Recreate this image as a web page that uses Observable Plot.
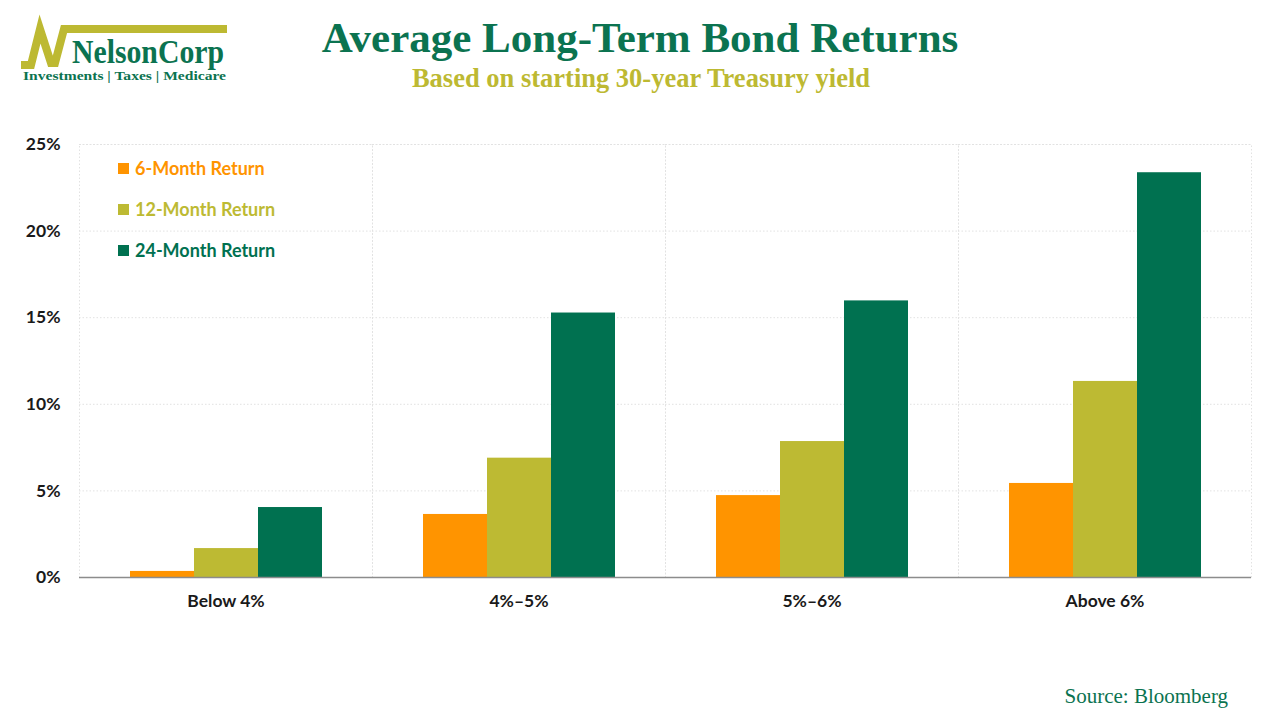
<!DOCTYPE html>
<html>
<head>
<meta charset="utf-8">
<script src="https://cdn.jsdelivr.net/npm/d3@7"></script>
<script src="https://cdn.jsdelivr.net/npm/@observablehq/plot@0.6"></script>
<style>
  html, body { margin: 0; padding: 0; background: #fff; }
  #page { position: relative; width: 1280px; height: 720px; overflow: hidden; background: #fff; }
  #title { position: absolute; left: 0; width: 1280px; top: 13px; text-align: center;
    font-family: "Liberation Serif", "Times New Roman", serif; font-weight: bold; font-size: 43px; color: #0B7350; }
  #subtitle { position: absolute; left: 0; width: 1282px; top: 63px; text-align: center;
    font-family: "Liberation Serif", "Times New Roman", serif; font-weight: bold; font-size: 26.5px; color: #BDB932; }
  #source { position: absolute; right: 52px; top: 684px;
    font-family: "Liberation Serif", "Times New Roman", serif; font-size: 21px; color: #0B7350; }
  #chart { position: absolute; left: 0; top: 120px; }
  #chart svg text { font-family: Lato, "Open Sans", sans-serif; font-weight: bold; }
  #legend { position: absolute; left: 118px; top: 156px; font-family: Lato, "Open Sans", sans-serif; font-weight: bold; font-size: 18px; }
  .item { position: absolute; left: 0; white-space: nowrap; height: 24px; line-height: 24px; }
  .sw { position: absolute; left: 0; top: 7px; width: 11px; height: 11px; }
  .lab { position: absolute; left: 17px; top: 0; }
  #logo { position: absolute; left: 0; top: 0; }
</style>
</head>
<body>
<div id="page">
  <svg id="logo" width="260" height="90">
    <polyline points="21,65 31,65 40,29 51,63 55,63 64,29 227,29" fill="none" stroke="#BDB932" stroke-width="8" stroke-linejoin="miter"/>
    <text x="72" y="63" font-family="Liberation Serif, serif" font-weight="bold" font-size="33" fill="#0B7350" textLength="152" lengthAdjust="spacingAndGlyphs">NelsonCorp</text>
    <text x="23" y="80" font-family="Liberation Serif, serif" font-weight="bold" font-size="13" fill="#0B7350" textLength="203" lengthAdjust="spacingAndGlyphs">Investments | Taxes | Medicare</text>
  </svg>
  <div id="title">Average Long-Term Bond Returns</div>
  <div id="subtitle">Based on starting 30-year Treasury yield</div>
  <div id="chart"></div>
  <div id="legend"></div>
  <div id="source">Source: Bloomberg</div>
</div>
<script>
const categories = ["Below 4%", "4%–5%", "5%–6%", "Above 6%"];
const series = ["6-Month Return", "12-Month Return", "24-Month Return"];
const return6 = [0.35, 3.64, 4.73, 5.43];
const return12 = [1.67, 6.89, 7.85, 11.32];
const return24 = [4.04, 15.27, 15.97, 23.37];
const yTicks = [0, 5, 10, 15, 20, 25];
const colors = ["#FF9400", "#BDBA33", "#007150"];

const valuesBySeries = [return6, return12, return24];
const data = [];
categories.forEach((c, i) => {
  series.forEach((s, j) => data.push({cat: c, series: s, value: valuesBySeries[j][i]}));
});

const chart = Plot.plot({
  width: 1280,
  height: 520,
  marginTop: 24,
  marginBottom: 63,
  marginLeft: 79,
  marginRight: 29,
  fx: {domain: categories, paddingInner: 0, paddingOuter: 0, label: null},
  x: {domain: series, paddingInner: 0, paddingOuter: 0.754, axis: null},
  y: {domain: [0, 25], label: null, axis: null},
  color: {domain: series, range: colors},
  marks: [
    Plot.frame({stroke: "#e2e2e2", strokeDasharray: "1.5,2", strokeWidth: 1}),
    Plot.ruleY(yTicks.filter(d => d > 0), {stroke: "#e2e2e2", strokeDasharray: "1.5,2", strokeWidth: 1}),
    Plot.barY(data, {fx: "cat", x: "series", y: "value", fill: "series"}),
    Plot.ruleY([0], {stroke: "#8c8c8c", strokeWidth: 1.5}),
    Plot.axisY({ticks: yTicks, tickSize: 0, tickPadding: 19, tickFormat: d => d + "%", line: true,
      stroke: "#8c8c8c", fill: "#1a1a1a", fontSize: 17.5, label: null}),
    Plot.axisFx({anchor: "bottom", tickSize: 0, tickPadding: 17, fill: "#1a1a1a", fontSize: 17.5, label: null})
  ]
});
document.getElementById("chart").appendChild(chart);

const legend = document.getElementById("legend");
series.forEach((s, j) => {
  const item = document.createElement("div");
  item.className = "item";
  item.style.top = (j * 41) + "px";
  item.style.color = colors[j];
  const sw = document.createElement("div");
  sw.className = "sw";
  sw.style.background = colors[j];
  const lab = document.createElement("div");
  lab.className = "lab";
  lab.textContent = s;
  item.appendChild(sw);
  item.appendChild(lab);
  legend.appendChild(item);
});
</script>
</body>
</html>
